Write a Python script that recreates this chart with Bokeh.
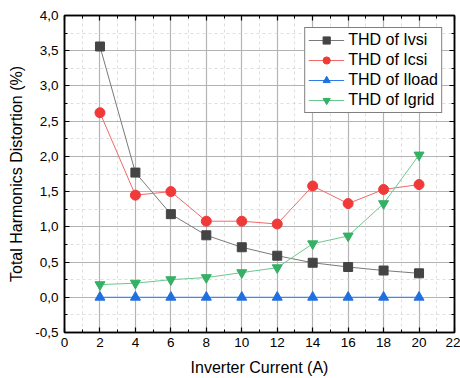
from bokeh.plotting import figure
from bokeh.models import (FixedTicker, CustomJSTickFormatter, LinearAxis, Range1d, Legend)
from bokeh.embed import file_html
from bokeh.resources import INLINE

current = [2, 4, 6, 8, 10, 12, 14, 16, 18, 20]
thd_ivsi = [3.56, 1.77, 1.18, 0.88, 0.71, 0.59, 0.49, 0.43, 0.38, 0.34]
thd_icsi = [2.62, 1.45, 1.50, 1.08, 1.08, 1.04, 1.58, 1.33, 1.53, 1.60]
thd_iload = [0.0, 0.0, 0.0, 0.0, 0.0, 0.0, 0.0, 0.0, 0.0, 0.0]
thd_igrid = [0.18, 0.20, 0.25, 0.28, 0.35, 0.42, 0.76, 0.87, 1.33, 2.02]

x_ticks = [0, 2, 4, 6, 8, 10, 12, 14, 16, 18, 20, 22]
x_minor = [1, 3, 5, 7, 9, 11, 13, 15, 17, 19, 21]
y_ticks = [-0.5, 0.0, 0.5, 1.0, 1.5, 2.0, 2.5, 3.0, 3.5, 4.0]
y_minor = [-0.25, 0.25, 0.75, 1.25, 1.75, 2.25, 2.75, 3.25, 3.75]

FONT = "Liberation Sans"

p = figure(width=460, height=378, output_backend="svg", toolbar_location=None,
           x_range=Range1d(0, 22), y_range=Range1d(-0.5, 4.0),
           min_border_left=64, min_border_right=6, min_border_top=15, min_border_bottom=46,
           background_fill_color="white", border_fill_color="white",
           outline_line_color="black", outline_line_width=1.5)

xt = FixedTicker(ticks=x_ticks, minor_ticks=x_minor)
yt = FixedTicker(ticks=y_ticks, minor_ticks=y_minor)
yfmt = CustomJSTickFormatter(code="return tick.toFixed(1).replace('.', ',');")
blank = CustomJSTickFormatter(code="return '';")

def style_axis(ax, labels=True):
    ax.axis_line_color = "black"
    ax.axis_line_width = 1.5
    ax.major_tick_line_color = "black"
    ax.minor_tick_line_color = "black"
    ax.major_tick_line_width = 1.2
    ax.minor_tick_line_width = 1.0
    ax.major_tick_out = 0
    ax.major_tick_in = 5
    ax.minor_tick_out = 0
    ax.minor_tick_in = 3
    ax.major_label_text_font = FONT
    ax.major_label_text_font_size = "13.5px"
    ax.major_label_text_color = "black"
    ax.axis_label_text_font = FONT
    ax.axis_label_text_font_size = "16px"
    ax.axis_label_text_font_style = "normal"
    ax.axis_label_text_color = "black"
    if not labels:
        ax.formatter = blank
        ax.major_label_standoff = 0

p.xaxis.ticker = xt
p.yaxis.ticker = yt
p.yaxis.formatter = yfmt
style_axis(p.xaxis[0])
style_axis(p.yaxis[0])
p.xaxis.axis_label = "Inverter Current (A)"
p.yaxis.axis_label = "Total Harmonics Distortion (%)"
p.xaxis.major_label_standoff = 5
p.yaxis.major_label_standoff = 6
p.xaxis.axis_label_standoff = 9
p.yaxis.axis_label_standoff = 7

top = LinearAxis(ticker=FixedTicker(ticks=x_ticks, minor_ticks=x_minor))
style_axis(top, labels=False)
p.add_layout(top, "above")
right = LinearAxis(ticker=FixedTicker(ticks=y_ticks, minor_ticks=y_minor))
style_axis(right, labels=False)
p.add_layout(right, "right")

p.xgrid.ticker = xt
p.ygrid.ticker = yt
for g in (p.xgrid, p.ygrid):
    g.grid_line_color = "#b4b4b4"
    g.grid_line_width = 1.2
    g.minor_grid_line_color = "#d6d6d6"
    g.minor_grid_line_dash = "3 3"
    g.minor_grid_line_width = 0.8

series = [
    ("THD of Ivsi", thd_ivsi, "#7a7a7a", "#444444", "square", 9),
    ("THD of Icsi", thd_icsi, "#f06a6a", "#f03a3a", "circle", 10),
    ("THD of Iload", thd_iload, "#2f7be8", "#1f6fe0", "triangle", 10),
    ("THD of Igrid", thd_igrid, "#6cc88e", "#35b065", "inverted_triangle", 10),
]

items = []
for label, ys, lc, mc, marker, size in series:
    l = p.line(current, ys, line_color=lc, line_width=1)
    s = p.scatter(current, ys, marker=marker, size=size, fill_color=mc, line_color=mc)
    items.append((label, [l, s]))

legend = Legend(items=items, location="top_right",
                label_text_font=FONT, label_text_font_size="16px",
                label_text_color="black",
                border_line_color="black", border_line_width=1,
                background_fill_color="white", background_fill_alpha=1,
                glyph_width=36, glyph_height=18, label_height=18,
                spacing=2, padding=3, margin=12, label_standoff=4)
p.add_layout(legend, "center")

open("out.html", "w").write(file_html(p, INLINE))
